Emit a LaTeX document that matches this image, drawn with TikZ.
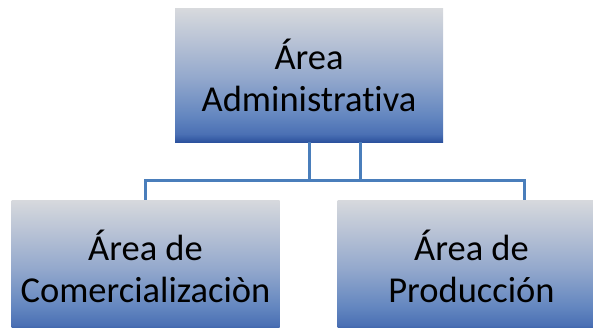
\documentclass[tikz,border=0pt]{standalone}
\usepackage{fontspec}
\setmainfont[Ligatures=NoCommon]{Carlito}
\usepackage{tikz}
\usetikzlibrary{shapes}
\definecolor{boxbot}{RGB}{44,82,158}
\definecolor{boxlow}{RGB}{75,112,180}
\definecolor{boxmid}{RGB}{100,135,192}
\definecolor{boxhalf}{RGB}{150,170,205}
\definecolor{boxtop}{RGB}{215,217,221}
\definecolor{linkblue}{RGB}{74,126,187}
\pgfdeclareverticalshading{boxfill}{100bp}{color(0bp)=(boxbot); color(25bp)=(boxbot); color(28bp)=(boxlow); color(35bp)=(boxmid); color(50bp)=(boxhalf); color(75bp)=(boxtop); color(100bp)=(boxtop)}

\begin{document}
\begin{tikzpicture}[x=1pt,y=1pt]
    \tikzstyle{area}=[rectangle,shading=boxfill,minimum width=268pt,minimum height=133pt,inner sep=0pt,align=center,font=\fontsize{36.5}{42}\selectfont]
    \tikzstyle{link}=[draw=linkblue,line width=3pt]
    \clip (0,0) rectangle (593,327);
      \node[area] (admin) at (309,251.5) {Área\\Administrativa};
      \node[area] (comercial) at (145.5,60.5) {Área de\\Comercializaciòn};
      \node[area] (produccion) at (471.5,60.5) {Área de\\Producción};
      \coordinate (bus) at (0,147);
      \coordinate (a2) at ([xshift=51pt]admin.south);
      \coordinate (p2) at ([xshift=52.5pt]produccion.north);
      \draw[link] (admin.south) -- (admin.south |- bus);
      \draw[link] (a2) -- (a2 |- bus);
      \draw[link] (comercial.north) -- (comercial.north |- bus) -- (p2 |- bus) -- (p2);
  \end{tikzpicture}
\end{document}
